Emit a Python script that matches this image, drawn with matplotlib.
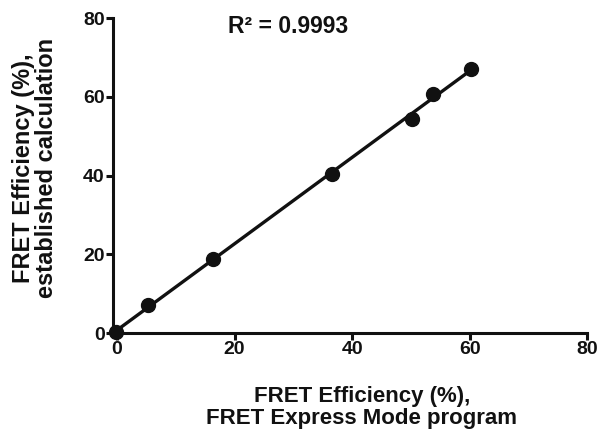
import numpy as np
import matplotlib
matplotlib.use("Agg")
import matplotlib.pyplot as plt

plt.rcParams['font.family'] = ['Liberation Sans', 'DejaVu Sans']
plt.rcParams['font.weight'] = 'bold'

# FRET efficiency (%) from the Express Mode program vs. the established calculation
express_mode = [-0.2, 5.3, 16.3, 36.5, 50.2, 53.7, 60.3]
established = [0.3, 7.1, 18.7, 40.3, 54.5, 60.8, 67.2]
r_squared = 0.9993

fig = plt.figure(figsize=(6.01, 4.32), dpi=100)
ax = fig.add_axes([0.188, 0.229, 0.789, 0.729])

# linear regression through the points
slope, intercept = np.polyfit(express_mode, established, 1)
xfit = np.array([min(express_mode), max(express_mode)])
ax.plot(xfit, slope * xfit + intercept, color='#111111', lw=2.4, zorder=3,
        solid_capstyle='butt', clip_on=False)
ax.plot(express_mode, established, 'o', color='#111111', ms=10, zorder=4,
        clip_on=False)

ax.set_xlim(-0.7, 80)
ax.set_ylim(0, 80)
ax.set_xticks([0, 20, 40, 60, 80])
ax.set_yticks([0, 20, 40, 60, 80])

for side in ['top', 'right']:
    ax.spines[side].set_visible(False)
for side in ['left', 'bottom']:
    ax.spines[side].set_linewidth(2.2)
    ax.spines[side].set_color('#111111')

ax.tick_params(width=2.2, length=5, color='#111111', labelsize=14, pad=1)
for lab in ax.get_xticklabels() + ax.get_yticklabels():
    lab.set_fontweight('bold')
    lab.set_color('#111111')

ax.set_xlabel('FRET Efficiency (%),\nFRET Express Mode program',
              fontsize=16, fontweight='bold', color='#111111',
              linespacing=1.05)
ax.xaxis.set_label_coords(0.525, -0.168)
ax.set_ylabel('FRET Efficiency (%),\nestablished calculation',
              fontsize=17, fontweight='bold', color='#111111',
              linespacing=0.95)
ax.yaxis.set_label_coords(-0.117, 0.524)

ax.text(0.369, 0.975, 'R² = %.4f' % r_squared, transform=ax.transAxes,
        fontsize=16.5, fontweight='bold', color='#111111',
        ha='center', va='center')

fig.savefig('out.png', dpi=100)
